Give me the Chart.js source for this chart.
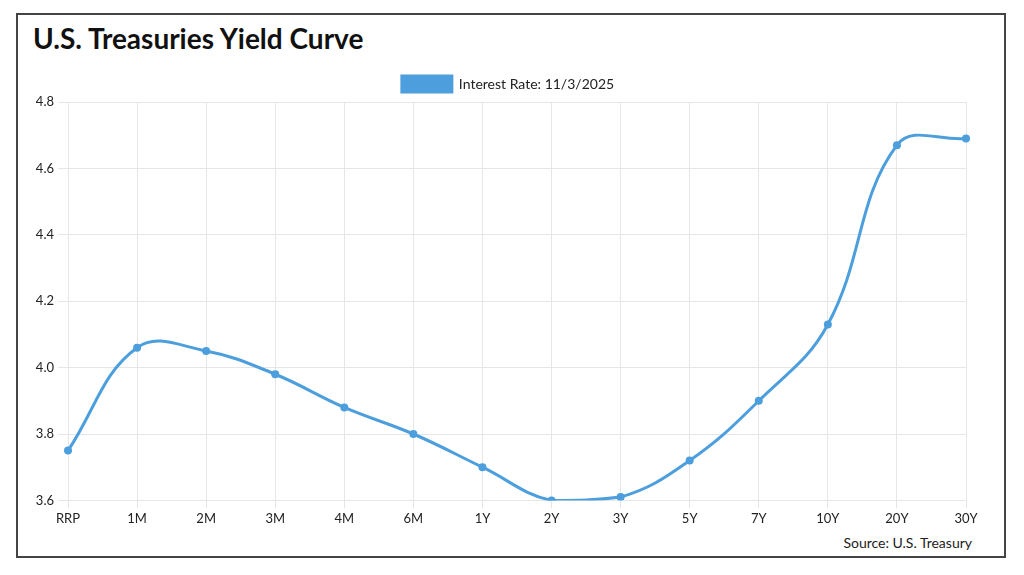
<!DOCTYPE html>
<html>
<head>
<meta charset="utf-8">
<title>U.S. Treasuries Yield Curve</title>
<script src="https://cdn.jsdelivr.net/npm/chart.js@4"></script>
<style>
    body { margin: 0; background: #fff; font-family: Lato, sans-serif; }
    #frame {
        position: absolute; left: 16px; top: 13px;
        width: 990px; height: 545px;
        box-sizing: border-box; border: 2px solid #444;
    }
    #title {
        position: absolute; left: 33px; top: 24px;
        font: 700 28px/28px Lato, sans-serif; color: #111; margin: 0;
    }
    #source {
        position: absolute; right: 52px; top: 535px;
        font: 400 14px/16px Lato, sans-serif; color: #222;
    }
    #chart { position: absolute; left: 18px; top: 60px; }
</style>
</head>
<body>
<div id="frame"></div>
<h1 id="title">U.S. Treasuries Yield Curve</h1>
<canvas id="chart" width="986" height="470"></canvas>
<div id="source">Source: U.S. Treasury</div>

<script>
// Chart data
const maturities = ['RRP', '1M', '2M', '3M', '4M', '6M', '1Y', '2Y', '3Y', '5Y', '7Y', '10Y', '20Y', '30Y'];
const rates = [3.75, 4.06, 4.05, 3.98, 3.88, 3.80, 3.70, 3.60, 3.61, 3.72, 3.90, 4.13, 4.67, 4.69];
const seriesLabel = 'Interest Rate: 11/3/2025';
const yTicks = [3.6, 3.8, 4.0, 4.2, 4.4, 4.6, 4.8];

const lineColor = '#4c9fdc';
const gridColor = '#e6e6e6';
const tickFont = { family: 'Lato', size: 13 };

// Legend in the reference is centred on the page, not on the plot area
const legendShift = {
    id: 'legendShift',
    afterLayout(chart) {
        if (chart.legend) {
            chart.legend.left += 16;
            chart.legend.right += 16;
        }
    }
};

// Build chart
const ctx = document.getElementById('chart').getContext('2d');
new Chart(ctx, {
    type: 'line',
    data: {
        labels: maturities,
        datasets: [{
            label: seriesLabel,
            data: rates,
            borderColor: lineColor,
            backgroundColor: lineColor,
            borderWidth: 3,
            tension: 0.4,
            pointRadius: 4,
            pointBackgroundColor: lineColor,
            pointBorderWidth: 0
        }]
    },
    plugins: [legendShift],
    options: {
        responsive: false,
        animation: false,
        layout: {
            padding: { top: 6, left: 0, right: 38, bottom: 0 }
        },
        plugins: {
            legend: {
                position: 'top',
                labels: {
                    boxWidth: 50,
                    boxHeight: 16,
                    padding: 10,
                    color: '#222',
                    font: { family: 'Lato', size: 14 }
                }
            },
            tooltip: { enabled: false }
        },
        scales: {
            x: {
                offset: false,
                grid: { color: gridColor, tickLength: 8 },
                border: { color: gridColor },
                ticks: { color: '#222', font: tickFont, padding: 3, maxRotation: 0 }
            },
            y: {
                min: yTicks[0],
                max: yTicks[yTicks.length - 1],
                afterFit: scale => { scale.width = 50; },
                afterBuildTicks: scale => {
                    scale.ticks = yTicks.map(v => ({ value: v }));
                },
                grid: { color: gridColor, tickLength: 10 },
                border: { color: gridColor },
                ticks: {
                    color: '#222',
                    font: tickFont,
                    padding: 4,
                    callback: v => Number(v).toFixed(1)
                }
            }
        }
    }
});
</script>
</body>
</html>
